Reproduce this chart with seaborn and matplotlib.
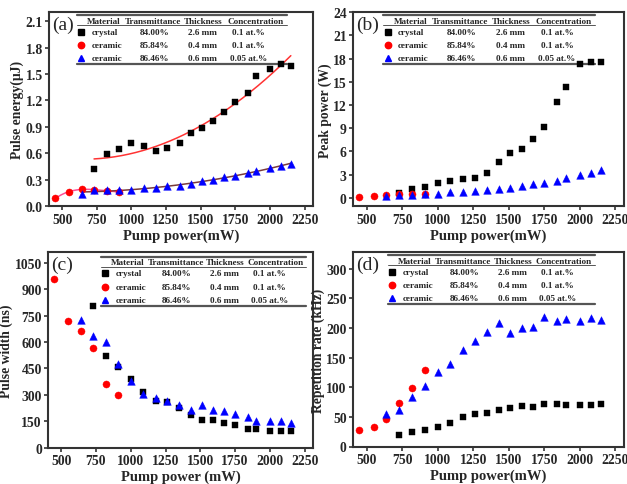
import numpy as np
import pandas as pd
import matplotlib
matplotlib.use("Agg")
import matplotlib.pyplot as plt
import seaborn as sns

# ---------------- data ----------------
x_red = [450, 550, 640, 730, 820, 910]
x_blue = [640, 730, 820, 910, 1000, 1090, 1180, 1260, 1350, 1430, 1510,
          1590, 1670, 1750, 1840, 1900, 2000, 2080, 2150]
x_crys = x_blue[1:]

# (a) pulse energy (uJ)
pe_crys = [0.42, 0.59, 0.65, 0.72, 0.685, 0.63, 0.66, 0.715, 0.83, 0.89, 0.965,
           1.07, 1.18, 1.28, 1.475, 1.555, 1.615, 1.595]
pe_red = [0.09, 0.16, 0.20, 0.185, 0.175, 0.165]
pe_blue = [0.14, 0.18, 0.185, 0.185, 0.19, 0.205, 0.205, 0.225, 0.235, 0.25, 0.29,
           0.30, 0.33, 0.34, 0.38, 0.40, 0.43, 0.46, 0.485]

# (b) peak power (W)
pp_crys = [0.56, 1.12, 1.42, 1.86, 2.16, 2.37, 2.55, 3.24, 4.57, 5.74, 6.26,
           7.55, 9.19, 12.39, 14.33, 17.3, 17.57, 17.6]
pp_red = [0.09, 0.2, 0.3, 0.43, 0.47, 0.47]
pp_blue = [0.2, 0.35, 0.39, 0.43, 0.52, 0.78, 0.78, 0.9, 1.0, 1.17, 1.21,
           1.47, 1.73, 1.86, 2.2, 2.59, 2.93, 3.19, 3.54]

# (c) pulse width (ns)
pw_crys = [804, 520, 458, 388, 318, 265, 261, 223, 184, 155, 155,
           142, 129, 104, 104, 91, 91, 91]
pw_red = [959, 719, 662, 564, 363, 299]
pw_blue = [725, 634, 602, 473, 380, 303, 280, 265, 242, 212, 240,
           216, 208, 189, 176, 149, 153, 148, 142]

# (d) repetition rate (kHz)
rr_crys = [19.2, 23.8, 28.3, 32.3, 40.2, 49.2, 54.9, 57.2, 62.3, 65.6, 69.0,
           67.3, 71.3, 71.9, 69.6, 70.7, 70.7, 71.3]
rr_red = [27.7, 33.4, 46.4, 74.0, 99.6, 129.6]
rr_blue = [55.0, 61.7, 83.8, 102.0, 125.6, 138.7, 162.4, 178.8, 193.0, 208.0, 192.4,
           200.3, 202.6, 218.0, 212.0, 215.6, 212.8, 216.7, 214.0]

table_header = ["Material", "Transmittance", "Thickness", "Concentration"]
table_rows = [["crystal", "84.00%", "2.6 mm", "0.1 at.%"],
              ["ceramic", "85.84%", "0.4 mm", "0.1 at.%"],
              ["ceramic", "86.46%", "0.6 mm", "0.05 at.%"]]
x_ticks = [500, 750, 1000, 1250, 1500, 1750, 2000, 2250]

# ---------------- style ----------------
sns.set_style("ticks")
plt.rcParams['font.family'] = ['Liberation Serif', 'DejaVu Serif']
plt.rcParams['font.weight'] = 'bold'
plt.rcParams['axes.labelweight'] = 'bold'

C_BLK, C_RED, C_BLU = "#000000", "#ff0000", "#0000ff"
SPINE = "#333333"

fig = plt.figure(figsize=(6.27, 4.85), dpi=100)
W, H = 627, 485


def add_ax(l, r, t, b):
    return fig.add_axes([l / W, 1 - b / H, (r - l) / W, (b - t) / H])


axA = add_ax(49, 313, 13.3, 207.3)
axB = add_ax(353, 624, 13.3, 207.3)
axC = add_ax(48, 313, 253.3, 448.5)
axD = add_ax(353, 624, 253.3, 447.5)


def scatter(ax, x, y, color, marker, s):
    df = pd.DataFrame({"x": x, "y": y})
    sns.scatterplot(data=df, x="x", y="y", ax=ax, color=color, marker=marker,
                    s=s, edgecolor=color, linewidth=0.3, zorder=3)


def draw_series(ax, yc, yr, yb):
    scatter(ax, x_crys, yc, C_BLK, "s", 22)
    scatter(ax, x_red, yr, C_RED, "o", 26)
    scatter(ax, x_blue, yb, C_BLU, "^", 30)


FS_T = 6.6


def table(ax, x0, x1, ytop, yhead, yline, rows_y, ybot):
    tr = ax.transAxes
    w = x1 - x0
    kw = dict(transform=tr, fontsize=FS_T, fontweight='bold', va='center', ha='center')
    ax.plot([x0, x1], [ytop, ytop], transform=tr, color="#555555", lw=1.6, clip_on=False)
    ax.plot([x0, x1], [yline, yline], transform=tr, color="#555555", lw=0.7, clip_on=False)
    ax.plot([x0, x1], [ybot, ybot], transform=tr, color="#555555", lw=1.6, clip_on=False)
    hcols = [0.129, 0.364, 0.602, 0.85]
    vcols = [0.37, 0.60, 0.82]
    for c, h in zip(hcols, table_header):
        ax.text(x0 + c * w, yhead, h, **kw)
    markers = [("s", C_BLK, 4), ("o", C_RED, 4.6), ("^", C_BLU, 4.8)]
    for (m, col, ms), row, yy in zip(markers, table_rows, rows_y):
        ax.plot([x0 + 0.02 * w], [yy], marker=m, color=col, ms=ms, transform=tr,
                clip_on=False, ls='none')
        ax.text(x0 + 0.07 * w, yy, row[0], transform=tr, fontsize=FS_T,
                fontweight='bold', va='center', ha='left')
        for c, v in zip(vcols, row[1:]):
            ax.text(x0 + c * w, yy, v, **kw)


def finish(ax, ylim, yticks, ylabel, xlabel, letter, fmt=None):
    ax.set_xlim(405, 2310)
    ax.set_ylim(*ylim)
    ax.set_xticks(x_ticks)
    ax.set_yticks(yticks)
    if fmt:
        ax.set_yticklabels([fmt % v for v in yticks])
    ax.set_xlabel(xlabel, fontsize=10.5, fontweight='bold', labelpad=2)
    ax.set_ylabel(ylabel, fontsize=9.8, fontweight='bold', labelpad=1)
    for sp in ax.spines.values():
        sp.set_visible(True)
        sp.set_color(SPINE)
        sp.set_linewidth(1.5)
    ax.tick_params(direction='out', length=3, width=1.2, color=SPINE,
                   labelsize=9.8, pad=1.5)
    for lab in ax.get_xticklabels() + ax.get_yticklabels():
        lab.set_fontweight('bold')
    ax.text(0.012, 0.94, letter, transform=ax.transAxes, fontsize=14,
            fontweight='normal', va='center', ha='left')


# (a)
draw_series(axA, pe_crys, pe_red, pe_blue)
fit_specs = [(x_crys, pe_crys, 2, "#ff3333", 730, 2150),
             (x_red, pe_red, 3, "#ff4d94", 450, 910),
             (x_blue, pe_blue, 2, "#7a3b3b", 640, 2150)]
for xs, ys, deg, col, lo, hi in fit_specs:
    coef = np.polyfit(xs, ys, deg)
    xx = np.linspace(lo, hi, 200)
    sns.lineplot(x=xx, y=np.polyval(coef, xx), ax=axA, color=col, lw=1.1, zorder=2)
finish(axA, (0, 2.2), [0.0, 0.3, 0.6, 0.9, 1.2, 1.5, 1.8, 2.1],
       "Pulse energy(μJ)", "Pump power(mW)", "(a)", fmt="%.1f")
table(axA, 0.106, 0.90, 0.988, 0.957, 0.935, [0.897, 0.831, 0.763], 0.733)

# (b)
draw_series(axB, pp_crys, pp_red, pp_blue)
finish(axB, (-1.1, 24), [0, 3, 6, 9, 12, 15, 18, 21, 24],
       "Peak power (W)", "Pump power(mW)", "(b)")
table(axB, 0.112, 0.893, 0.988, 0.957, 0.935, [0.897, 0.831, 0.763], 0.733)

# (c)
draw_series(axC, pw_crys, pw_red, pw_blue)
finish(axC, (0, 1110), [0, 150, 300, 450, 600, 750, 900, 1050],
       "Pulse width (ns)", "Pump power (mW)", "(c)")
table(axC, 0.20, 0.975, 0.974, 0.949, 0.925, [0.892, 0.824, 0.757], 0.726)

# (d)
draw_series(axD, rr_crys, rr_red, rr_blue)
finish(axD, (0, 328), [0, 50, 100, 150, 200, 250, 300],
       "Repetition rate (kHz)", "Pump power(mW)", "(d)")
table(axD, 0.13, 0.893, 0.988, 0.955, 0.933, [0.897, 0.831, 0.763], 0.733)

fig.savefig("out.png", dpi=100)
